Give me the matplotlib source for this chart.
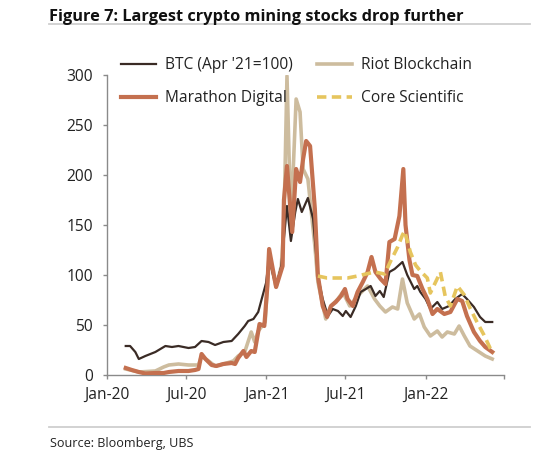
import matplotlib
matplotlib.use("Agg")
import matplotlib.pyplot as plt
from matplotlib.lines import Line2D
import pandas as pd

# ---------------- data ----------------
btc_dates = ["2020-02-13", "2020-02-23", "2020-03-06", "2020-03-14", "2020-03-29", "2020-04-21",
             "2020-05-14", "2020-05-29", "2020-06-13", "2020-07-06", "2020-07-21", "2020-08-05",
             "2020-08-21", "2020-09-05", "2020-09-24", "2020-10-13", "2020-10-28", "2020-11-12",
             "2020-11-20", "2020-12-02", "2020-12-13", "2020-12-21", "2020-12-31", "2021-01-07",
             "2021-01-16", "2021-01-23", "2021-02-04", "2021-02-17", "2021-02-26", "2021-03-08",
             "2021-03-14", "2021-03-23", "2021-04-06", "2021-04-18", "2021-04-29", "2021-05-10",
             "2021-05-22", "2021-06-02", "2021-06-14", "2021-06-25", "2021-07-02", "2021-07-13",
             "2021-07-25", "2021-08-05", "2021-08-17", "2021-08-28", "2021-09-08", "2021-09-18",
             "2021-09-27", "2021-10-10", "2021-10-22", "2021-11-09", "2021-11-20", "2021-12-06",
             "2021-12-13", "2021-12-20", "2022-01-01", "2022-01-12", "2022-01-28", "2022-02-08",
             "2022-02-24", "2022-03-10", "2022-03-26", "2022-04-06", "2022-04-22", "2022-05-06",
             "2022-05-18", "2022-06-03"]
btc_values = [29, 29, 23, 16, 19, 23,
              29, 28, 29, 27, 28, 34,
              33, 30, 33, 34, 41, 49,
              54, 56, 63, 76, 92, 118,
              100, 89, 109, 169, 134, 163,
              176, 163, 177, 156, 99, 76,
              59, 66, 64, 59, 64, 58,
              69, 83, 86, 89, 79, 84,
              78, 103, 106, 113, 100, 86,
              89, 83, 76, 66, 73, 66,
              69, 76, 81, 76, 68, 58,
              53, 53]

riot_dates = ["2020-02-13", "2020-03-14", "2020-04-21", "2020-05-10", "2020-05-22", "2020-06-13",
              "2020-07-06", "2020-07-29", "2020-08-05", "2020-08-21", "2020-09-05", "2020-09-24",
              "2020-10-17", "2020-10-28", "2020-11-12", "2020-11-27", "2020-12-05", "2020-12-13",
              "2020-12-29", "2021-01-07", "2021-01-23", "2021-02-04", "2021-02-10", "2021-02-17",
              "2021-02-26", "2021-03-10", "2021-03-19", "2021-03-26", "2021-04-06", "2021-04-22",
              "2021-04-29", "2021-05-17", "2021-05-29", "2021-06-14", "2021-06-25", "2021-07-11",
              "2021-07-29", "2021-08-14", "2021-08-21", "2021-09-06", "2021-09-18", "2021-10-01",
              "2021-10-17", "2021-10-29", "2021-11-09", "2021-11-20", "2021-12-06", "2021-12-18",
              "2021-12-29", "2022-01-12", "2022-01-28", "2022-02-08", "2022-02-20", "2022-03-08",
              "2022-03-19", "2022-03-31", "2022-04-13", "2022-05-04", "2022-05-18", "2022-06-03"]
riot_values = [6, 3, 4, 8, 10, 11,
               10, 10, 19, 14, 9, 11,
               14, 19, 23, 43, 33, 44,
               53, 120, 88, 109, 150, 299,
               149, 276, 263, 206, 196, 129,
               93, 56, 69, 76, 83, 69,
               79, 86, 89, 76, 69, 63,
               68, 66, 96, 72, 56, 61,
               48, 39, 44, 38, 43, 41,
               49, 39, 29, 23, 19, 16]

mara_dates = ["2020-02-13", "2020-02-27", "2020-03-14", "2020-03-29", "2020-04-21", "2020-05-10",
              "2020-05-22", "2020-06-13", "2020-07-06", "2020-07-21", "2020-07-29", "2020-08-05",
              "2020-08-14", "2020-08-28", "2020-09-08", "2020-09-24", "2020-10-13", "2020-10-21",
              "2020-10-28", "2020-11-09", "2020-11-16", "2020-11-27", "2020-12-05", "2020-12-16",
              "2020-12-27", "2021-01-03", "2021-01-07", "2021-01-23", "2021-02-07", "2021-02-10",
              "2021-02-17", "2021-03-01", "2021-03-10", "2021-03-19", "2021-03-26", "2021-04-02",
              "2021-04-11", "2021-04-22", "2021-04-29", "2021-05-10", "2021-05-20", "2021-05-29",
              "2021-06-09", "2021-06-21", "2021-06-30", "2021-07-06", "2021-07-18", "2021-07-29",
              "2021-08-10", "2021-08-21", "2021-08-30", "2021-09-08", "2021-09-20", "2021-10-01",
              "2021-10-10", "2021-10-22", "2021-11-02", "2021-11-11", "2021-11-16", "2021-11-25",
              "2021-12-02", "2021-12-13", "2021-12-25", "2022-01-05", "2022-01-17", "2022-01-28",
              "2022-02-13", "2022-02-27", "2022-03-15", "2022-03-26", "2022-04-06", "2022-04-22",
              "2022-05-06", "2022-05-18", "2022-06-03"]
mara_values = [7, 5, 3, 1.5, 2, 2,
               3, 4, 4, 5, 6, 21,
               16, 10, 9, 11, 12, 11,
               17, 24, 18, 24, 23, 51,
               49, 89, 126, 88, 109, 175,
               209, 143, 206, 193, 216, 234,
               229, 166, 99, 69, 58, 69,
               73, 79, 86, 76, 69, 83,
               93, 103, 118, 103, 96, 91,
               133, 136, 159, 206, 150, 115,
               100, 99, 86, 76, 61, 66,
               61, 63, 76, 74, 59, 43,
               34, 28, 23]

core_dates = ["2021-04-29", "2021-05-20", "2021-06-14", "2021-07-06", "2021-07-29", "2021-08-17",
              "2021-09-06", "2021-09-29", "2021-10-13", "2021-10-29", "2021-11-09", "2021-11-14",
              "2021-11-27", "2021-12-09", "2021-12-20", "2022-01-05", "2022-01-12", "2022-01-23",
              "2022-02-04", "2022-02-15", "2022-02-27", "2022-03-15", "2022-03-31", "2022-04-13",
              "2022-04-29", "2022-05-15", "2022-05-29", "2022-06-07"]
core_values = [99, 97, 97, 97, 99, 101,
               103, 101, 114, 128, 140, 144,
               123, 110, 104, 97, 82, 92,
               103, 79, 69, 89, 80, 67,
               53, 40, 27, 22]

x_tick_dates = ["2020-01-01", "2020-07-01", "2021-01-01", "2021-07-01", "2022-01-01", "2022-06-30"]
x_tick_labels = ["Jan-20", "Jul-20", "Jan-21", "Jul-21", "Jan-22", ""]
y_ticks = [0, 50, 100, 150, 200, 250, 300]

title_text = "Figure 7: Largest crypto mining stocks drop further"
source_text = "Source: Bloomberg, UBS"
labels = ["BTC (Apr '21=100)", "Riot Blockchain", "Marathon Digital", "Core Scientific"]

# ---------------- styling ----------------
W, H = 557, 453
DPI = 100
BODY = "Open Sans"
c_btc = "#3a2b25"
c_riot = "#cdbc9e"
c_mara = "#c4704f"
c_core = "#e6c55e"
grey = "#8a8a8a"
rule = "#cfcfcf"
txt = "#222222"

fig = plt.figure(figsize=(W / DPI, H / DPI), dpi=DPI)
fig.patch.set_facecolor("white")
ax = fig.add_axes([107 / W, 1 - 375 / H, (504 - 107) / W, (375 - 75) / H])

def d(lst):
    return pd.to_datetime(lst)

l_riot, = ax.plot(d(riot_dates), riot_values, color=c_riot, lw=2.6, solid_joinstyle="round", zorder=2)
l_btc, = ax.plot(d(btc_dates), btc_values, color=c_btc, lw=1.6, solid_joinstyle="round", zorder=3)
l_mara, = ax.plot(d(mara_dates), mara_values, color=c_mara, lw=3.0, solid_joinstyle="round", zorder=4)
l_core, = ax.plot(d(core_dates), core_values, color=c_core, lw=2.6, dashes=(2.6, 1.5), zorder=5)

ax.set_ylim(0, 300)
ax.set_xlim(pd.Timestamp("2020-01-01"), pd.Timestamp("2022-06-30"))
ax.set_yticks(y_ticks)
ax.set_xticks(d(x_tick_dates))
ax.set_xticklabels(x_tick_labels)

for s in ["top", "right"]:
    ax.spines[s].set_visible(False)
for s in ["left", "bottom"]:
    ax.spines[s].set_color(grey)
    ax.spines[s].set_linewidth(1.0)
ax.tick_params(axis="both", direction="out", length=3, width=1.0, color=grey, labelcolor=txt)
ax.tick_params(axis="x", pad=5.5)
ax.tick_params(axis="y", pad=7)

renderer = fig.canvas.get_renderer()

def fit_size(s, family, weight, target_px, base=10):
    t = fig.text(0, 0, s, family=family, weight=weight, fontsize=base)
    w = t.get_window_extent(renderer).width
    t.remove()
    return base * target_px / w

tick_fs = fit_size("Jan-20", BODY, "normal", 45)
for lab in ax.get_xticklabels() + ax.get_yticklabels():
    lab.set_family(BODY)
    lab.set_fontsize(tick_fs)

# title + rules
title_fs = fit_size(title_text, BODY, "bold", 417)
fig.text(49 / W, 1 - 20.7 / H, title_text, family=BODY, weight="bold",
         fontsize=title_fs, color="#111111", ha="left", va="baseline")
fig.add_artist(Line2D([49 / W, 530 / W], [1 - 23.5 / H, 1 - 23.5 / H], color=rule, lw=1.3))
fig.add_artist(Line2D([49 / W, 530 / W], [1 - 427 / H, 1 - 427 / H], color=rule, lw=1.3))

src_fs = fit_size(source_text, BODY, "normal", 143)
fig.text(50 / W, 1 - 443 / H, source_text, family=BODY, fontsize=src_fs,
         color=txt, ha="left", va="center")

# legend
leg_fs = fit_size(labels[0], BODY, "normal", 128)
px2pt = 72 / DPI
leg = ax.legend([l_btc, l_mara, l_riot, l_core],
                [labels[0], labels[2], labels[1], labels[3]],
                ncol=2, frameon=False, loc="upper left",
                bbox_to_anchor=(121 / W, 1 - 57 / H), bbox_transform=fig.transFigure,
                borderpad=0, borderaxespad=0,
                handlelength=35 * px2pt / leg_fs, handletextpad=9 * px2pt / leg_fs,
                columnspacing=24 * px2pt / leg_fs, labelspacing=1.1,
                prop={"family": BODY, "size": leg_fs})
for t in leg.get_texts():
    t.set_color(txt)

fig.savefig("out.png", dpi=DPI, facecolor="white")
